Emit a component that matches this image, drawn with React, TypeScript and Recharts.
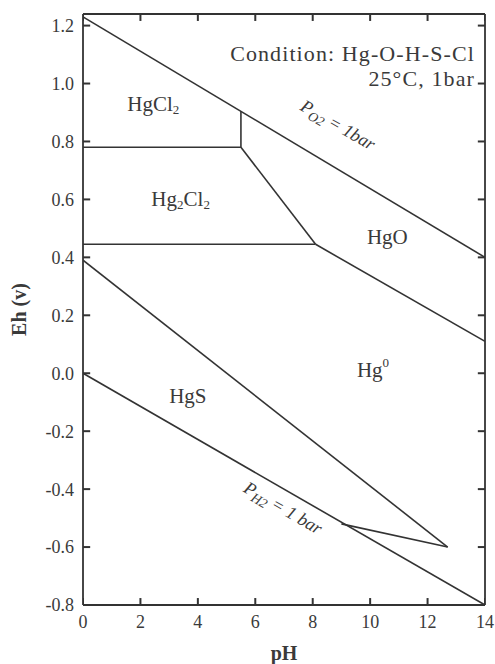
import { LineChart, Line, XAxis, YAxis, ReferenceDot, ReferenceLine } from 'recharts';

const SERIF = '"Liberation Serif", "Times New Roman", serif';
const INK = '#333';
const TEXT = '#3a3a3a';

const PH_MIN = 0;
const PH_MAX = 14;
const EH_MIN = -0.8;
const EH_MAX = 1.24;
const PH_TICKS = [0, 2, 4, 6, 8, 10, 12, 14];
const EH_TICKS = [-0.8, -0.6, -0.4, -0.2, 0, 0.2, 0.4, 0.6, 0.8, 1.0, 1.2];
// inward tick length, in axis units (about 7px)
const PH_TICK_LEN = 0.25;
const EH_TICK_LEN = 0.024;

// stability field boundaries (pH, Eh)
const O2_LINE = [{ ph: 0, eh: 1.23 }, { ph: 14, eh: 0.4 }];
const H2_LINE = [{ ph: 0, eh: 0 }, { ph: 14, eh: -0.8 }];
const HGCL2_HG2CL2 = [{ ph: 0, eh: 0.78 }, { ph: 5.5, eh: 0.78 }];
const HGCL2_HGO = [{ ph: 5.5, eh: 0.78 }, { ph: 5.5, eh: 0.905 }];
const HG2CL2_HGO = [{ ph: 5.5, eh: 0.78 }, { ph: 8.1, eh: 0.445 }];
const HG2CL2_HG = [{ ph: 0, eh: 0.445 }, { ph: 8.1, eh: 0.445 }];
const HGO_HG = [{ ph: 8.1, eh: 0.445 }, { ph: 14, eh: 0.11 }];
const HGS_UPPER = [{ ph: 0, eh: 0.39 }, { ph: 12.7, eh: -0.6 }];
const HGS_LOWER = [{ ph: 9.0, eh: -0.52 }, { ph: 12.7, eh: -0.6 }];

const BOUNDARIES = [O2_LINE, H2_LINE, HGCL2_HG2CL2, HGCL2_HGO, HG2CL2_HGO, HG2CL2_HG, HGO_HG, HGS_UPPER, HGS_LOWER];

// field names: _x = subscript, ^x = superscript
const REGION_NAMES = ['HgCl_2', 'Hg_2Cl_2', 'HgO', 'Hg^0', 'HgS'];
const REGION_PH = [2.45, 3.4, 10.6, 10.1, 3.65];
const REGION_EH = [0.93, 0.6, 0.47, 0.01, -0.08];

const LINE_NAMES = ['P_O_2 = 1bar', 'P_H_2 = 1 bar'];
const LINE_NAME_PH = [8.88, 6.97];
const LINE_NAME_EH = [0.857, -0.465];

const NOTE_LINES = ['Condition: Hg-O-H-S-Cl', '25°C, 1bar'];
const NOTE_PH = 13.65;
const NOTE_EH = [1.105, 1.019];

// inward tick marks on all four sides, as short two-point series
const TICK_MARKS = [
  ...PH_TICKS.map((t) => [{ ph: t, eh: EH_MIN }, { ph: t, eh: EH_MIN + EH_TICK_LEN }]),
  ...PH_TICKS.map((t) => [{ ph: t, eh: EH_MAX }, { ph: t, eh: EH_MAX - EH_TICK_LEN }]),
  ...EH_TICKS.map((t) => [{ ph: PH_MIN, eh: t }, { ph: PH_MIN + PH_TICK_LEN, eh: t }]),
  ...EH_TICKS.map((t) => [{ ph: PH_MAX, eh: t }, { ph: PH_MAX - PH_TICK_LEN, eh: t }]),
];

function parseChem(s: string) {
  const parts: { t: string; sub?: boolean; sup?: boolean }[] = [];
  let i = 0;
  let buf = '';
  while (i < s.length) {
    const c = s[i];
    if ((c === '_' || c === '^') && i + 1 < s.length) {
      if (buf) parts.push({ t: buf });
      buf = '';
      parts.push({ t: s[i + 1], sub: c === '_', sup: c === '^' });
      i += 2;
    } else {
      buf += c;
      i += 1;
    }
  }
  if (buf) parts.push({ t: buf });
  return parts;
}

function chemLabel(
  text: string,
  size: number,
  opts: { rotate?: number; italic?: boolean; anchor?: string; subScale?: number; spacing?: number } = {}
) {
  return (props: any) => {
    const vb = props.viewBox || {};
    const cx = (vb.x ?? 0) + (vb.width ?? 0) / 2;
    const cy = (vb.y ?? 0) + (vb.height ?? 0) / 2;
    const parts = parseChem(text);
    const small = size * (opts.subScale || 0.62);
    return (
      <text
        x={cx}
        y={cy}
        textAnchor={opts.anchor || 'middle'}
        dominantBaseline="central"
        fontFamily={SERIF}
        fontSize={size}
        fontStyle={opts.italic ? 'italic' : 'normal'}
        letterSpacing={opts.spacing || 0}
        fill={TEXT}
        transform={opts.rotate ? `rotate(${opts.rotate} ${cx} ${cy})` : undefined}
      >
        {parts.map((p, i) => (
          <tspan
            key={i}
            baselineShift={p.sub ? -size * 0.28 : p.sup ? size * 0.35 : undefined}
            fontSize={p.sub || p.sup ? small : undefined}
          >
            {p.t}
          </tspan>
        ))}
      </text>
    );
  };
}

export default function App() {
  return (
    <div style={{ position: 'absolute', left: 0, top: 0, background: '#fff' }}>
      <LineChart width={495} height={664} margin={{ top: 14, right: 10, bottom: 0, left: 0 }}>
        <XAxis
          dataKey="ph"
          type="number"
          domain={[PH_MIN, PH_MAX]}
          ticks={PH_TICKS}
          allowDataOverflow
          interval={0}
          height={59}
          tickLine={false}
          tickSize={0}
          tickMargin={10}
          stroke={INK}
          strokeWidth={1.8}
          tick={{ fontSize: 18, fill: TEXT, fontFamily: SERIF }}
          label={{ value: 'pH', position: 'insideBottom', offset: 4, style: { fontFamily: SERIF, fontSize: 20, fontWeight: 'bold', fill: TEXT } }}
        />
        <YAxis
          type="number"
          domain={[EH_MIN, EH_MAX]}
          ticks={EH_TICKS}
          allowDataOverflow
          interval={0}
          width={83}
          tickLine={false}
          tickSize={0}
          tickMargin={9}
          stroke={INK}
          strokeWidth={1.8}
          tickFormatter={(v: number) => v.toFixed(1)}
          tick={{ fontSize: 18, fill: TEXT, fontFamily: SERIF }}
          label={{ value: 'Eh (v)', angle: -90, position: 'insideLeft', offset: 19, style: { textAnchor: 'middle', fontFamily: SERIF, fontSize: 20, fontWeight: 'bold', fill: TEXT } }}
        />
        {/* closing frame */}
        <ReferenceLine y={EH_MAX} stroke={INK} strokeWidth={1.8} />
        <ReferenceLine x={PH_MAX} stroke={INK} strokeWidth={1.8} />
        {TICK_MARKS.map((seg, i) => (
          <Line
            key={`tick${i}`}
            data={seg}
            dataKey="eh"
            type="linear"
            stroke={INK}
            strokeWidth={2}
            dot={false}
            activeDot={false}
            isAnimationActive={false}
          />
        ))}
        {BOUNDARIES.map((seg, i) => (
          <Line
            key={i}
            data={seg}
            dataKey="eh"
            type="linear"
            stroke={INK}
            strokeWidth={1.6}
            dot={false}
            activeDot={false}
            isAnimationActive={false}
          />
        ))}
        {REGION_NAMES.map((n, i) => (
          <ReferenceDot key={n} x={REGION_PH[i]} y={REGION_EH[i]} r={0} stroke="none" label={chemLabel(n, 21)} />
        ))}
        {LINE_NAMES.map((n, i) => (
          <ReferenceDot
            key={n}
            x={LINE_NAME_PH[i]}
            y={LINE_NAME_EH[i]}
            r={0}
            stroke="none"
            label={chemLabel(n, 18, { rotate: 30, italic: true, subScale: 0.75 })}
          />
        ))}
        {NOTE_LINES.map((n, i) => (
          <ReferenceDot key={n} x={NOTE_PH} y={NOTE_EH[i]} r={0} stroke="none" label={chemLabel(n, 22, { anchor: 'end', spacing: 1.1 })} />
        ))}
      </LineChart>
    </div>
  );
}
